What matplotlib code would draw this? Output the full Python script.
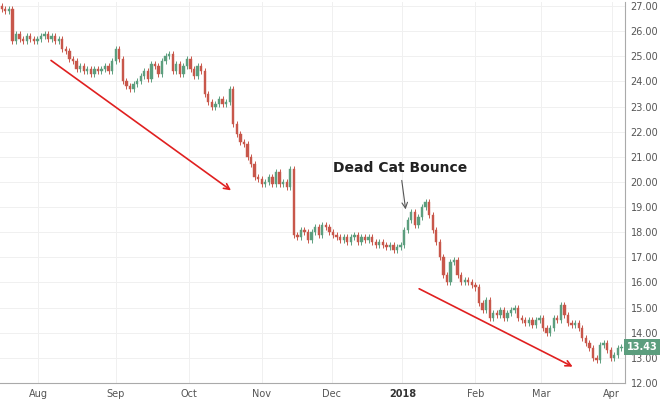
import numpy as np
import matplotlib.pyplot as plt
from matplotlib.patches import FancyArrowPatch

# daily closes
closes = [26.9, 26.8, 26.9,
          25.6, 25.9, 25.7, 25.6, 25.8, 25.7, 25.6, 25.7, 25.8, 25.9, 25.7, 25.8, 25.6, 25.7,
          25.3, 25.2, 24.9, 24.8, 24.5, 24.6, 24.4, 24.5, 24.3, 24.5, 24.4, 24.5, 24.6, 24.4,
          24.8, 25.3, 24.9, 24.0,
          23.8, 23.7, 23.9, 24.0, 24.2, 24.4, 24.1, 24.7, 24.6, 24.3, 24.8, 25.0, 25.1,
          24.4, 24.7, 24.3, 24.6, 24.9, 24.5, 24.2, 24.6, 24.4,
          23.5, 23.2, 23.0, 23.1, 23.3, 23.1, 23.2, 23.7,
          22.3, 21.9, 21.6, 21.5, 21.0, 20.7, 20.2, 20.1, 19.9,
          20.0, 20.2, 19.9, 20.4, 19.9, 20.0, 19.8, 20.5,
          17.9, 17.8, 18.1, 18.0, 17.7, 18.0, 18.2, 17.9, 18.3, 18.2, 18.0,
          17.9, 17.8, 17.7, 17.8, 17.6, 17.8, 17.9, 17.6, 17.8, 17.7, 17.8, 17.6, 17.5, 17.6, 17.5, 17.4, 17.5, 17.3, 17.4,
          17.5, 18.1, 18.5, 18.8, 18.3, 18.6, 19.0, 19.2,
          18.7, 18.1, 17.6, 17.0, 16.3, 16.0, 16.8, 16.9,
          16.3, 16.0, 16.1, 16.0, 15.9, 15.8, 15.2,
          14.9, 15.3, 14.6, 14.8, 14.7, 14.9, 14.6, 14.8, 14.9, 15.0, 14.6, 14.5, 14.4, 14.5, 14.3, 14.5, 14.6,
          14.2, 14.0, 14.2, 14.6, 14.5, 15.1,
          14.7, 14.4, 14.3, 14.4, 14.2, 13.8, 13.6,
          13.4, 13.0, 12.9, 13.5, 13.6, 13.3, 13.0, 13.1, 13.4, 13.43]
opens = [27.0] + closes[:-1]

month_labels = ["Aug", "Sep", "Oct", "Nov", "Dec", "2018", "Feb", "Mar", "Apr"]
month_pos = [10.3, 32, 52.5, 73, 92.7, 112.5, 133, 151.5, 171.3]
price_ticks = np.arange(12, 28)

up_col = "#5c9e7e"
dn_col = "#c8574b"

fig = plt.figure(figsize=(6.6, 4.04), dpi=100)
ax = fig.add_axes([0, 0.052, 625 / 660, 0.943])

for i, (o, c) in enumerate(zip(opens, closes)):
    col = up_col if c >= o else dn_col
    lo, hi = min(o, c), max(o, c)
    ax.vlines(i, lo - 0.12, hi + 0.12, color=col, lw=0.7)
    h = max(hi - lo, 0.05)
    ax.bar(i, h, bottom=lo, width=0.65, color=col, edgecolor=col, lw=0.3)

ax.set_xlim(-0.5, 175)
ax.set_ylim(12.0, 27.16)
ax.yaxis.tick_right()
ax.set_yticks(price_ticks)
ax.set_yticklabels([f"{v:.2f}" for v in price_ticks], color="#555555", fontsize=7)
ax.set_xticks(month_pos)
ax.set_xticklabels(month_labels, fontsize=7, color="#555555")
ax.get_xticklabels()[5].set_fontweight("bold")
ax.get_xticklabels()[5].set_color("#333333")
ax.tick_params(length=0, pad=4)
ax.grid(True, color="#f0f0f0", lw=0.7)
ax.set_axisbelow(True)
for s in ["top", "left"]:
    ax.spines[s].set_visible(False)
ax.spines["right"].set_color("#aaaaaa")
ax.spines["bottom"].set_color("#aaaaaa")

# last price tag
ax.text(1.003, (closes[-1] - 12.0) / 15.16, f"{closes[-1]:.2f}", transform=ax.transAxes,
        fontsize=7, color="white", fontweight="bold", va="center", ha="left",
        bbox=dict(boxstyle="square,pad=0.3", fc="#5c9e7e", ec="none"))

# trend arrows
for (x0, y0), (x1, y1) in [((13.2, 24.9), (65, 19.6)), ((116.5, 15.8), (161, 12.6))]:
    ax.add_patch(FancyArrowPatch((x0, y0), (x1, y1), arrowstyle="->", mutation_scale=10,
                                 color="#e02020", lw=1.2))

ax.annotate("Dead Cat Bounce", xy=(113.5, 18.8), xytext=(93, 20.4),
            fontsize=10, fontweight="bold", color="#222222",
            arrowprops=dict(arrowstyle="->", color="#555555", lw=0.8))

fig.savefig("out.png")
